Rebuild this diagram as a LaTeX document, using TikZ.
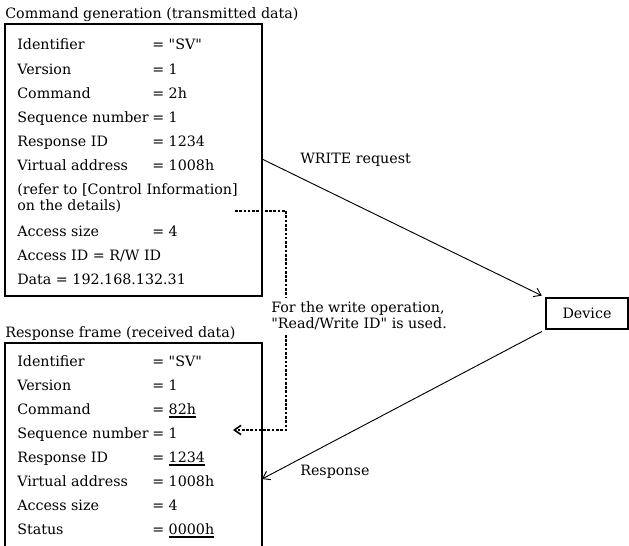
\documentclass[tikz,border=0pt]{standalone}
\usepackage{fontspec}
\setmainfont{DejaVu Serif}[Ligatures=TeXOff]
\usetikzlibrary{arrows.meta}

\newcommand{\ulval}[1]{\vtop{\hbox{#1}\kern1.2pt\hrule height 1.9pt}}

\begin{document}
\begin{tikzpicture}[x=0.75pt,y=-0.75pt,>={Straight Barb[length=5pt,width=7pt]},
frame/.style={line width=0.9pt},
item/.style={anchor=base west, inner sep=0pt, font=\fontsize{10.7}{12}\selectfont},
device/.style={rectangle, draw, line width=0.9pt, minimum width=61.5pt, minimum height=23.25pt, font=\fontsize{10.7}{12}\selectfont},
msg/.style={->, line width=0.7pt},
idlink/.style={->, line width=1.2pt, dash pattern=on 2pt off 1.2pt},
note/.style={item, anchor=west, fill=white, align=left, inner sep=3pt}]

\useasboundingbox (0,0) rectangle (629,546);

\draw (5,18) node[item] (Tx) {Command generation (transmitted data)};
\draw[frame] (5,24) rectangle (262,296);
\draw (17,50) node[item] (Id1) {Identifier};
\draw (152,50) node[item] (IdV1) {= "SV"};
\draw (17,74) node[item] (Ver1) {Version};
\draw (152,74) node[item] (VerV1) {= 1};
\draw (17,98) node[item] (Cmd1) {Command};
\draw (152,98) node[item] (CmdV1) {= 2h};
\draw (17,122) node[item] (Seq1) {Sequence number};
\draw (152,122) node[item] (SeqV1) {= 1};
\draw (17,146) node[item] (Rid1) {Response ID};
\draw (152,146) node[item] (RidV1) {= 1234};
\draw (17,170) node[item] (Va1) {Virtual address};
\draw (152,170) node[item] (VaV1) {= 1008h};
\draw (17,194) node[item] (Ref1) {(refer to [Control Information]};
\draw (17,210) node[item] (Ref2) {on the details)};
\draw (17,236) node[item] (As1) {Access size};
\draw (152,236) node[item] (AsV1) {= 4};
\draw (17,260) node[item] (Aid1) {Access ID = R/W ID};
\draw (17,284) node[item] (Dat1) {Data = 192.168.132.31};

\draw (5,337) node[item] (Rx) {Response frame (received data)};
\draw[frame] (5,546) |- (262,343) -- (262,546);
\draw (17,366) node[item] (Id2) {Identifier};
\draw (152,366) node[item] (IdV2) {= "SV"};
\draw (17,390) node[item] (Ver2) {Version};
\draw (152,390) node[item] (VerV2) {= 1};
\draw (17,414) node[item] (Cmd2) {Command};
\draw (152,414) node[item] (CmdV2) {= \ulval{82h}};
\draw (17,438) node[item] (Seq2) {Sequence number};
\draw (152,438) node[item] (SeqV2) {= 1};
\draw (17,462) node[item] (Rid2) {Response ID};
\draw (152,462) node[item] (RidV2) {= \ulval{1234}};
\draw (17,486) node[item] (Va2) {Virtual address};
\draw (152,486) node[item] (VaV2) {= 1008h};
\draw (17,510) node[item] (As2) {Access size};
\draw (152,510) node[item] (AsV2) {= 4};
\draw (17,534) node[item] (St2) {Status};
\draw (152,534) node[item] (StV2) {= \ulval{0000h}};

\draw (587,313.5) node[device] (Dev) {Device};

\coordinate (wr) at (262,159);
\coordinate (rs) at (262,479);
\coordinate (dA) at (235,211);
\coordinate (dB) at (233,430);

\draw[msg, shorten >=3pt] (wr)--(Dev.north west);
\draw[msg, shorten <=3pt] (Dev.south west)--(rs);
\draw[idlink] (dA)--++(51,0) |- (dB);

\draw (300,163) node[item] (WrL) {WRITE request};
\draw (300,475) node[item] (RsL) {Response};
\draw (267,316) node[note] (Note) {For the write operation,\\"Read/Write ID" is used.};

\end{tikzpicture}
\end{document}
